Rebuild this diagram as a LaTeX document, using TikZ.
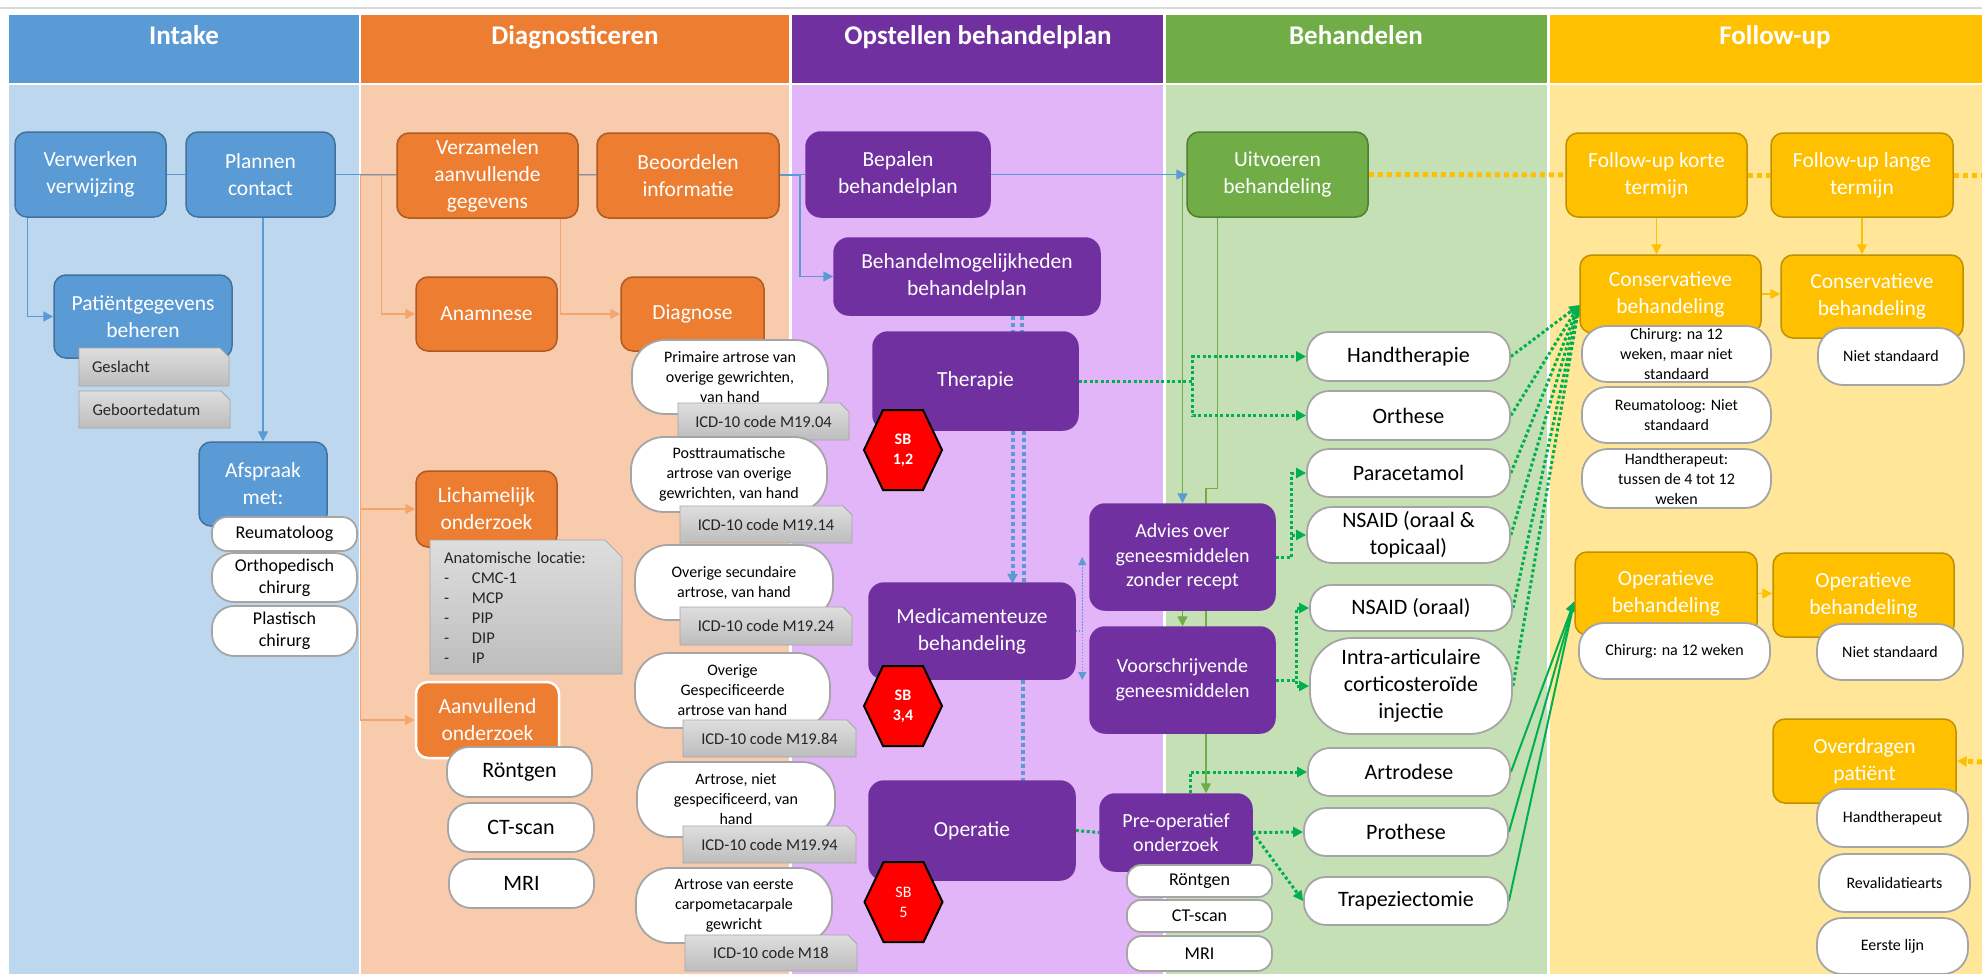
\documentclass[tikz,border=0pt]{standalone}
\usepackage{fontspec}
\setmainfont{Carlito}
\usetikzlibrary{arrows.meta,shapes.misc}

\definecolor{blueA}{HTML}{5B9BD5}
\definecolor{blueD}{HTML}{41719C}
\definecolor{blueL}{HTML}{BDD7EE}
\definecolor{orangeA}{HTML}{ED7D31}
\definecolor{orangeD}{HTML}{AE5A21}
\definecolor{orangeL}{HTML}{F8CBAD}
\definecolor{orangeLn}{HTML}{F4A56E}
\definecolor{purpleA}{HTML}{7030A0}
\definecolor{purpleL}{HTML}{E2B4F8}
\definecolor{greenA}{HTML}{70AD47}
\definecolor{greenD}{HTML}{507E32}
\definecolor{greenL}{HTML}{C5E0B4}
\definecolor{greenDot}{HTML}{00B050}
\definecolor{yellowA}{HTML}{FFC000}
\definecolor{yellowD}{HTML}{BF9000}
\definecolor{yellowL}{HTML}{FFE699}
\definecolor{pillD}{HTML}{A5A5A5}
\definecolor{noteT}{HTML}{DEDEDE}
\definecolor{noteB}{HTML}{BDBDBD}
\definecolor{noteD}{HTML}{A6A6A6}
\definecolor{noteTx}{HTML}{262626}

\newcommand{\fshead}{\fontsize{27}{31}\selectfont\bfseries}
\newcommand{\fsmain}{\fontsize{21.5}{27}\selectfont}
\newcommand{\fsmed}{\fontsize{20}{24.5}\selectfont}
\newcommand{\fspill}{\fontsize{22}{27}\selectfont}
\newcommand{\fsmid}{\fontsize{18}{22}\selectfont}
\newcommand{\fssmall}{\fontsize{16}{20}\selectfont}
\newcommand{\fsnote}{\fontsize{16.5}{20}\selectfont}
\newcommand{\itm}[1]{\makebox[28pt][l]{-}#1}

\pgfdeclarelayer{lanes}
\pgfdeclarelayer{links}
\pgfsetlayers{lanes,links,main}

\tikzset{wh/.style 2 args={minimum width=#1pt, minimum height=#2pt}}
\tikzstyle{lanehead} = [font=\fshead, text=white, anchor=base]
\tikzstyle{box} = [rounded corners=12pt, text=white, align=center, inner sep=1pt, font=\fsmain, line width=1.5pt]
\tikzstyle{bluebox} = [box, fill=blueA, draw=blueD]
\tikzstyle{orangebox} = [box, fill=orangeA, draw=orangeD]
\tikzstyle{purplebox} = [box, fill=purpleA, draw=purpleA, rounded corners=15pt]
\tikzstyle{greenbox} = [box, fill=greenA, draw=greenD]
\tikzstyle{yellowbox} = [box, fill=yellowA, draw=yellowD]
\tikzstyle{pill} = [rounded corners=22pt, draw=pillD, fill=white, line width=1.8pt, align=center, inner sep=0pt, text=black]
\tikzstyle{note} = [chamfered rectangle, chamfered rectangle corners=north east, chamfered rectangle xsep=7pt, draw=noteD, top color=noteT, bottom color=noteB, line width=0.8pt, text=noteTx, inner sep=0pt, font=\fsnote]
\tikzstyle{sbtext} = [text=white, align=center, font=\fssmall, inner sep=0pt]
\tikzstyle{arrow} = [-{Triangle[length=10pt,width=10pt]}]
\tikzstyle{bline} = [draw=blueA, line width=1.5pt]
\tikzstyle{oline} = [draw=orangeLn, line width=1.5pt]
\tikzstyle{gline} = [draw=greenA, line width=1.3pt]
\tikzstyle{yline} = [draw=yellowA, line width=1.5pt]
\tikzstyle{bdot} = [draw=blueA, line width=4pt, dash pattern=on 4pt off 3pt]
\tikzstyle{bthin} = [draw=blueA, line width=1.2pt, dash pattern=on 1.5pt off 1.5pt]
\tikzstyle{gdot} = [draw=greenDot, line width=3pt, dash pattern=on 3pt off 2.5pt]
\tikzstyle{gsolid} = [draw=greenDot, line width=2pt]
\tikzstyle{ydot} = [draw=yellowA, line width=5pt, dash pattern=on 5pt off 4pt]

% red hexagon: name, x, y, text
\newcommand{\sbhex}[4]{%
  \filldraw[fill=red, draw=black, line width=2pt] ({#2-39},#3) -- ({#2-20},{#3-40}) -- ({#2+20},{#3-40})
    -- ({#2+39},#3) -- ({#2+20},{#3+40}) -- ({#2-20},{#3+40}) -- cycle;
  \node[sbtext] (#1) at (#2,#3) {#4};}

\begin{document}
\begin{tikzpicture}[x=1pt, y=-1pt]
\useasboundingbox (0,0) rectangle (1982,974);

% lanes
\begin{pgfonlayer}{lanes}
  \fill[white] (0,0) rectangle (1982,974);
  \draw[black!15, line width=1.5pt] (0,8) -- (1982,8);
  \fill[blueA] (9,15) rectangle (359,83);
  \fill[blueL] (9,85) rectangle (359,974);
  \fill[orangeA] (361,15) rectangle (789,83);
  \fill[orangeL] (361,85) rectangle (789,974);
  \fill[purpleA] (792,15) rectangle (1163,83);
  \fill[purpleL] (792,85) rectangle (1163,974);
  \fill[greenA] (1166,15) rectangle (1547,83);
  \fill[greenL] (1166,85) rectangle (1547,974);
  \fill[yellowA] (1550,15) rectangle (1982,83);
  \fill[yellowL] (1550,85) rectangle (1982,974);
\end{pgfonlayer}

\node[lanehead] (hintake) at (184,45) {Intake};
\node[lanehead] (hdiag) at (575,45) {Diagnosticeren};
\node[lanehead] (hplan) at (978,45) {Opstellen behandelplan};
\node[lanehead] (hbeh) at (1356,45) {Behandelen};
\node[lanehead] (hfollow) at (1775,45) {Follow-up};

% Intake
\node[bluebox, wh={151}{85}] (verwerken) at (90.5,174.5) {Verwerken\\verwijzing};
\node[bluebox, wh={149}{85}] (plannen) at (260.5,174.5) {Plannen\\contact};
\node[bluebox, wh={178}{83}] (patient) at (143,316.5) {Patiëntgegevens\\beheren};
\node[note, wh={150}{38}, text width=124pt, align=left] (geslacht) at (154,367) {Geslacht};
\node[note, wh={151}{37}, text width=124pt, align=left] (geboorte) at (154.5,409.5) {Geboortedatum};
\node[bluebox, wh={128}{84}] (afspraak) at (263,484) {Afspraak\\met:};
\node[pill, font=\fsmid, wh={145}{34}, rounded corners=15pt] (reuma) at (284.5,534) {Reumatoloog};
\node[pill, font=\fsmid, wh={145}{49}] (ortho) at (284.5,577.5) {Orthopedisch\\chirurg};
\node[pill, font=\fsmid, wh={145}{50}] (plast) at (284.5,631) {Plastisch\\chirurg};

% Diagnosticeren
\node[orangebox, wh={181}{85}] (verzamelen) at (487.5,175.5) {Verzamelen\\aanvullende\\gegevens};
\node[orangebox, wh={182}{85}] (beoordelen) at (688,175.5) {Beoordelen\\informatie};
\node[orangebox, wh={141}{74}] (anamnese) at (486.5,314) {Anamnese};
\node[orangebox, wh={143}{74}] (diagnose) at (692.5,314) {Diagnose};
\node[orangebox, wh={141}{76}] (lichamelijk) at (486.5,509) {Lichamelijk\\onderzoek};
\node[note, wh={192}{134}, text width=164pt, align=left, chamfered rectangle xsep=14pt] (anatomie) at (526,607)
  {\\[-8pt]Anatomische locatie:\\\itm{CMC-1}\\\itm{MCP}\\\itm{PIP}\\\itm{DIP}\\\itm{IP}};
\node[orangebox, wh={143}{76}, draw=white, line width=2.5pt] (aanvullend) at (487.5,720) {Aanvullend\\onderzoek};
\node[pill, font=\fspill, wh={145}{50}] (rontgenA) at (519.5,772) {Röntgen};
\node[pill, font=\fspill, wh={146}{49}] (ctA) at (521,827.5) {CT-scan};
\node[pill, font=\fspill, wh={145}{49}] (mriA) at (521.5,883.5) {MRI};

% diagnoses with ICD-10 codes
\node[pill, font=\fssmall, wh={196}{74}, rounded corners=33pt] (diag1) at (730,377) {Primaire artrose van\\overige gewrichten,\\van hand};
\node[note, wh={171}{37}] (icd1) at (763.5,421.5) {ICD-10 code M19.04};
\node[pill, font=\fssmall, wh={196}{75}, rounded corners=33pt] (diag2) at (729,474.5) {Posttraumatische\\artrose van overige\\gewrichten, van hand};
\node[note, wh={172}{37}] (icd2) at (766,524.5) {ICD-10 code M19.14};
\node[pill, font=\fssmall, wh={198}{75}, rounded corners=33pt] (diag3) at (734,582.5) {Overige secundaire\\artrose, van hand};
\node[note, wh={172}{38}] (icd3) at (766,626) {ICD-10 code M19.24};
\node[pill, font=\fssmall, wh={195}{75}, rounded corners=33pt] (diag4) at (732.5,690.5) {Overige\\Gespecificeerde\\artrose van hand};
\node[note, wh={173}{37}] (icd4) at (769.5,738.5) {ICD-10 code M19.84};
\node[pill, font=\fssmall, wh={198}{75}, rounded corners=33pt] (diag5) at (736,799.5) {Artrose, niet\\gespecificeerd, van\\hand};
\node[note, wh={173}{37}] (icd5) at (769.5,844.5) {ICD-10 code M19.94};
\node[pill, font=\fssmall, wh={196}{75}, rounded corners=33pt] (diag6) at (734,905.5) {Artrose van eerste\\carpometacarpale\\gewricht};
\node[note, wh={172}{36}] (icd6) at (771,953) {ICD-10 code M18};

% Opstellen behandelplan
\node[purplebox, wh={184}{85}] (bepalen) at (898,174.5) {Bepalen\\behandelplan};
\node[purplebox, wh={266}{77}] (behmog) at (967,276.5) {Behandelmogelijkheden\\behandelplan};
\node[purplebox, wh={205}{98}] (therapie) at (975.5,381) {Therapie};
\node[purplebox, wh={206}{96}] (medicam) at (972,631) {Medicamenteuze\\behandeling};
\node[purplebox, wh={206}{99}] (operatie) at (972,830.5) {Operatie};

% Behandelen
\node[greenbox, wh={181}{85}] (uitvoeren) at (1277.5,174.5) {Uitvoeren\\behandeling};
\node[purplebox, font=\fsmed, wh={185}{106}] (advies) at (1182.5,557) {Advies over\\geneesmiddelen\\zonder recept};
\node[purplebox, font=\fsmed, wh={185}{106}] (voorschr) at (1182.5,680) {Voorschrijvende\\geneesmiddelen};
\node[purplebox, font=\fsmed, wh={152}{77}] (preop) at (1176,832.5) {Pre-operatief\\onderzoek};
\node[pill, font=\fsmid, wh={145}{32}, rounded corners=14pt] (rontgenB) at (1199.5,881) {Röntgen};
\node[pill, font=\fsmid, wh={145}{32}, rounded corners=14pt] (ctB) at (1199.5,916) {CT-scan};
\node[pill, font=\fsmid, wh={145}{35}, rounded corners=15pt] (mriB) at (1199.5,953.5) {MRI};
\node[pill, font=\fspill, wh={203}{49}] (handth) at (1408.5,356.5) {Handtherapie};
\node[pill, font=\fspill, wh={203}{49}] (orthese) at (1408.5,415.5) {Orthese};
\node[pill, font=\fspill, wh={203}{48}] (paracet) at (1408.5,473) {Paracetamol};
\node[pill, font=\fspill, wh={203}{56}, rounded corners=25pt] (nsaid1) at (1408.5,535) {NSAID (oraal \&\\topicaal)};
\node[pill, font=\fspill, wh={202}{46}, rounded corners=21pt] (nsaid2) at (1411,608) {NSAID (oraal)};
\node[pill, font=\fspill, wh={202}{96}, rounded corners=42pt] (intra) at (1411,686) {Intra-articulaire\\corticosteroïde\\injectie};
\node[pill, font=\fspill, wh={202}{48}] (artrodese) at (1409,772) {Artrodese};
\node[pill, font=\fspill, wh={204}{48}] (prothese) at (1406,832) {Prothese};
\node[pill, font=\fspill, wh={204}{48}] (trapez) at (1406,901) {Trapeziectomie};

% Follow-up
\node[yellowbox, wh={181}{84}] (fuk) at (1656.5,175) {Follow-up korte\\termijn};
\node[yellowbox, wh={182}{84}] (ful) at (1862,175) {Follow-up lange\\termijn};
\node[yellowbox, wh={181}{78}] (cons1) at (1670.5,294) {Conservatieve\\behandeling};
\node[yellowbox, wh={182}{83}] (cons2) at (1872,296.5) {Conservatieve\\behandeling};
\node[pill, font=\fssmall, wh={189}{56}, rounded corners=25pt] (chir1) at (1676.5,354) {Chirurg: na 12\\weken, maar niet\\standaard};
\node[pill, font=\fssmall, wh={189}{56}, rounded corners=25pt] (reumaF) at (1676.5,415) {Reumatoloog: Niet\\standaard};
\node[pill, font=\fssmall, wh={189}{59}, rounded corners=26pt] (handF) at (1676.5,478.5) {Handtherapeut:\\tussen de 4 tot 12\\weken};
\node[pill, font=\fssmall, wh={146}{57}, rounded corners=25pt] (niets1) at (1891,356.5) {Niet standaard};
\node[yellowbox, wh={182}{83}] (op1) at (1666,593.5) {Operatieve\\behandeling};
\node[yellowbox, wh={181}{84}] (op2) at (1863.5,595) {Operatieve\\behandeling};
\node[pill, font=\fssmall, wh={191}{56}, rounded corners=25pt] (chir2) at (1674.5,651) {Chirurg: na 12 weken};
\node[pill, font=\fssmall, wh={146}{56}, rounded corners=25pt] (niets2) at (1890,652) {Niet standaard};
\node[yellowbox, wh={183}{84}] (overdr) at (1864.5,761) {Overdragen\\patiënt};
\node[pill, font=\fssmall, wh={151}{58}, rounded corners=26pt] (handtp) at (1892.5,818) {Handtherapeut};
\node[pill, font=\fssmall, wh={151}{58}, rounded corners=26pt] (revalid) at (1894.5,883) {Revalidatiearts};
\node[pill, font=\fssmall, wh={151}{56}, rounded corners=25pt] (eerste) at (1892.5,946) {Eerste lijn};

% stappen
\sbhex{sb1}{903}{450}{\bfseries SB\\\bfseries 1,2}
\sbhex{sb2}{903}{706}{\bfseries SB\\\bfseries 3,4}
\sbhex{sb3}{903.5}{902}{SB\\5}

\coordinate (fuend) at (1982,175);
\coordinate (odend) at (1982,762);

\begin{pgfonlayer}{links}
  % intake and diagnosis
  \draw[oline] (verzamelen.east) -- (beoordelen.west);
  \draw[bline] (verwerken) -- (plannen);
  \draw[bline] (plannen) -- (bepalen);
  \draw[bline, arrow] ([xshift=13pt]verwerken.south west) |- (patient.west);
  \draw[bline, arrow] (afspraak.north |- plannen.south) -- (afspraak.north);
  \draw[oline, arrow] (verzamelen.west) -| ([xshift=-55pt]lichamelijk.west) -- (lichamelijk.west);
  \draw[oline, arrow] ([xshift=-55pt]lichamelijk.west) |- (aanvullend.west);
  \draw[oline, arrow] ([xshift=-15pt]verzamelen.west) |- (anamnese.west);
  \draw[oline, arrow] ([xshift=73pt]verzamelen.south) |- (diagnose.west);
  % behandelplan
  \draw[bline, arrow] (beoordelen.east) -- ++(20,0) |- (behmog.west);
  \draw[bline, arrow] (bepalen.east) -- (uitvoeren.west);
  \draw[bdot] ([xshift=46pt]behmog.south) -- ++(0,17);
  \draw[bdot] ([xshift=55pt]behmog.south) -- ++(0,17);
  \draw[bdot, arrow] ([xshift=37pt]therapie.south) -- ++(0,153);
  \draw[bdot] ([xshift=48pt]therapie.south) -- ++(0,153);
  \draw[bdot] ([xshift=51pt]medicam.south) -- ++(0,102);
  \draw[bthin, -{Triangle[length=8pt,width=8pt]}] (medicam.east) -| ([xshift=-7pt]advies.west);
  \draw[bthin, -{Triangle[length=8pt,width=8pt]}] (medicam.east) -| ([xshift=-7pt]voorschr.west);
  % behandelen
  \draw[gline, -{Triangle[length=10pt,width=10pt,color=blueA]}] (advies.north |- uitvoeren.west) -- (advies.north);
  \draw[gline, arrow] ([xshift=31pt]uitvoeren.south west) -- ++(0,271) -| ([xshift=30pt]preop.north);
  \draw[gline, arrow] (advies.south) -- (voorschr.north);
  \draw[gdot, arrow] (therapie.east) -- ++(114,0) |- (handth.west);
  \draw[gdot, arrow] (therapie.east) -- ++(114,0) |- (orthese.west);
  \draw[gdot, arrow] (advies.east) -- ++(16,0) |- (paracet.west);
  \draw[gdot, arrow] (advies.east) -- ++(16,0) |- (nsaid1.west);
  \draw[gdot, arrow] (voorschr.east) -- ++(21,0) |- (nsaid2.west);
  \draw[gdot, arrow] (voorschr.east) -- ++(21,0) |- (intra.west);
  \draw[gdot] (operatie.east) -- (preop.west);
  \draw[gdot, arrow] ([xshift=14pt]preop.north) |- (artrodese.west);
  \draw[gdot, arrow] (preop.east) -- (prothese.west);
  \draw[gdot, arrow] (preop.east) -- (trapez.west);
  \foreach \src in {handth,orthese,paracet,nsaid1,nsaid2,intra}
    \draw[gdot, arrow] (\src.east) -- ([yshift=-11pt]cons1.west);
  \foreach \src in {artrodese,prothese,trapez}
    \draw[gsolid, arrow] (\src.east) -- ([yshift=-8pt]op1.west);
  % follow-up
  \draw[ydot] (uitvoeren.east) -- (fuk.west);
  \draw[ydot] (fuk.east) -- (ful.west);
  \draw[ydot] (ful.east) -- (fuend);
  \draw[yline, arrow] (fuk.south) -- (fuk.south |- cons1.north);
  \draw[yline, arrow] (ful.south) -- (ful.south |- cons2.north);
  \draw[yline, arrow] (cons1.east) -- (cons1.east -| cons2.west);
  \draw[yline, arrow] (op1.east) -- (op1.east -| op2.west);
  \draw[ydot, arrow] (odend) -- (overdr.east);
\end{pgfonlayer}
\end{tikzpicture}
\end{document}
